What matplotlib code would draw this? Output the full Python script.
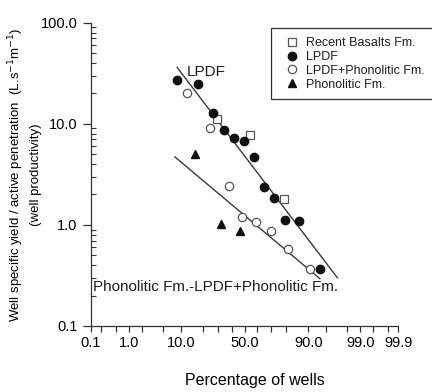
# -*- coding: utf-8 -*-
"""
Well productivity vs. percentage of wells (normal probability x-axis, log y-axis).
"""

import numpy as np
import matplotlib
matplotlib.use('Agg')
import matplotlib.pyplot as plt
from matplotlib.ticker import FixedLocator, NullFormatter, LogLocator
from statistics import NormalDist

plt.rcParams['font.family'] = ['Liberation Sans', 'DejaVu Sans']
plt.rcParams['text.color'] = '#1e1e1e'

# ---------------- data ----------------
lpdf_pct = [8.8, 17.5, 26.3, 34.2, 41.8, 49.4, 57.9, 65.0, 72.1, 79.2, 86.4, 93.6]
lpdf_val = [27.1, 24.7, 12.7, 8.7, 7.3, 6.8, 4.65, 2.35, 1.84, 1.11, 1.10, 0.37]

mix_pct = [12.3, 24.6, 37.7, 47.8, 58.9, 70.3, 80.7, 90.6]
mix_val = [20.0, 9.1, 2.42, 1.20, 1.06, 0.87, 0.58, 0.37]

basalt_pct = [28.8, 54.5, 78.4]
basalt_val = [11.2, 7.7, 1.81]

phon_pct = [16.0, 31.6, 46.3]
phon_val = [5.0, 1.03, 0.87]

# fitted lines (end points)
lpdf_fit_pct = [8.8, 96.9]
lpdf_fit_val = [36.1, 0.30]
phon_fit_pct = [8.1, 93.5]
phon_fit_val = [4.7, 0.294]

x_ticks = [0.1, 0.2, 0.5, 1, 2, 5, 10, 20, 30, 40, 50, 60, 70, 80, 90,
           95, 98, 99, 99.5, 99.8, 99.9]
x_labeled = {0.1: '0.1', 1: '1.0', 10: '10.0', 50: '50.0', 90: '90.0',
             99: '99.0', 99.9: '99.9'}
y_ticks = [0.1, 1, 10, 100]
y_labels = ['0.1', '1.0', '10.0', '100.0']


# ------------- normal probability scale -------------
_nd = NormalDist()

def _ppf(v):
    if not np.isfinite(v):
        return np.nan
    v = min(max(v, 1e-7), 100 - 1e-7)
    return _nd.inv_cdf(v / 100.0)

def _cdf(v):
    if not np.isfinite(v):
        return np.nan
    return _nd.cdf(v) * 100.0

prob_fwd = np.vectorize(_ppf, otypes=[float])
prob_inv = np.vectorize(_cdf, otypes=[float])


# ---------------- plot ----------------
fig = plt.figure(figsize=(4.32, 3.92), dpi=100)
ax = fig.add_axes([0.21, 0.1684, 0.712, 0.7736])

ax.set_xscale('function', functions=(prob_fwd, prob_inv))
ax.set_yscale('log')
ax.set_xlim(0.1, 99.9)
ax.set_ylim(0.1, 100)

line_c = '#3a3a3a'
ax.plot(lpdf_fit_pct, lpdf_fit_val, color=line_c, lw=1.0, zorder=2)
ax.plot(phon_fit_pct, phon_fit_val, color=line_c, lw=1.0, zorder=2)

ax.plot(basalt_pct, basalt_val, ls='none', marker='s', ms=6, mfc='white',
        mec='#555555', mew=0.9, label='Recent Basalts Fm.', zorder=3)
ax.plot(lpdf_pct, lpdf_val, ls='none', marker='o', ms=6, mfc='#111111',
        mec='#111111', label='LPDF', zorder=4)
ax.plot(mix_pct, mix_val, ls='none', marker='o', ms=6, mfc='white',
        mec='#555555', mew=0.9, label='LPDF+Phonolitic Fm.', zorder=3)
ax.plot(phon_pct, phon_val, ls='none', marker='^', ms=6, mfc='#111111',
        mec='#111111', label='Phonolitic Fm.', zorder=3)

ax.text(12.4, 29.7, 'LPDF', fontsize=11, ha='left', va='baseline')
ax.text(0.113, 0.222, 'Phonolitic Fm.-LPDF+Phonolitic Fm.', fontsize=11,
        ha='left', va='baseline')

# axes look
ax.spines['top'].set_visible(False)
ax.spines['right'].set_visible(False)
for s in ('left', 'bottom'):
    ax.spines[s].set_color('#333333')
    ax.spines[s].set_linewidth(0.9)

ax.xaxis.set_major_locator(FixedLocator(x_ticks))
ax.set_xticklabels([x_labeled.get(t, '') for t in x_ticks])
ax.xaxis.set_minor_locator(FixedLocator([]))
ax.tick_params(axis='x', which='major', direction='out', length=4.5,
               width=0.9, color='#333333', pad=3, labelsize=10.5)

ax.set_yticks(y_ticks)
ax.set_yticklabels(y_labels)
ax.yaxis.set_minor_locator(LogLocator(base=10, subs=np.arange(2, 10)))
ax.yaxis.set_minor_formatter(NullFormatter())
ax.tick_params(axis='y', which='major', direction='out', length=5.5,
               width=0.9, color='#333333', pad=4, labelsize=10.5)
ax.tick_params(axis='y', which='minor', direction='in', length=3.5,
               width=0.8, color='#333333')

ax.set_xlabel('Percentage of wells', fontsize=11.5)
ax.xaxis.set_label_coords(0.534, -0.155)
ax.set_ylabel('Well specific yield / active penetration  (L.s$^{-1}$m$^{-1}$)\n'
              '(well productivity)', fontsize=9.5, linespacing=1.5)
ax.yaxis.set_label_coords(-0.158, 0.5)

leg = ax.legend(loc='upper left', bbox_to_anchor=(270.7 / 432, 1 - 28.3 / 392),
                bbox_transform=fig.transFigure, fontsize=9, frameon=True,
                fancybox=False, framealpha=1, edgecolor='#333333',
                handlelength=2.0, handletextpad=0.15, labelspacing=0.15,
                borderpad=0.7, borderaxespad=0)
leg.get_frame().set_linewidth(0.9)

fig.savefig('out.png', dpi=100)
